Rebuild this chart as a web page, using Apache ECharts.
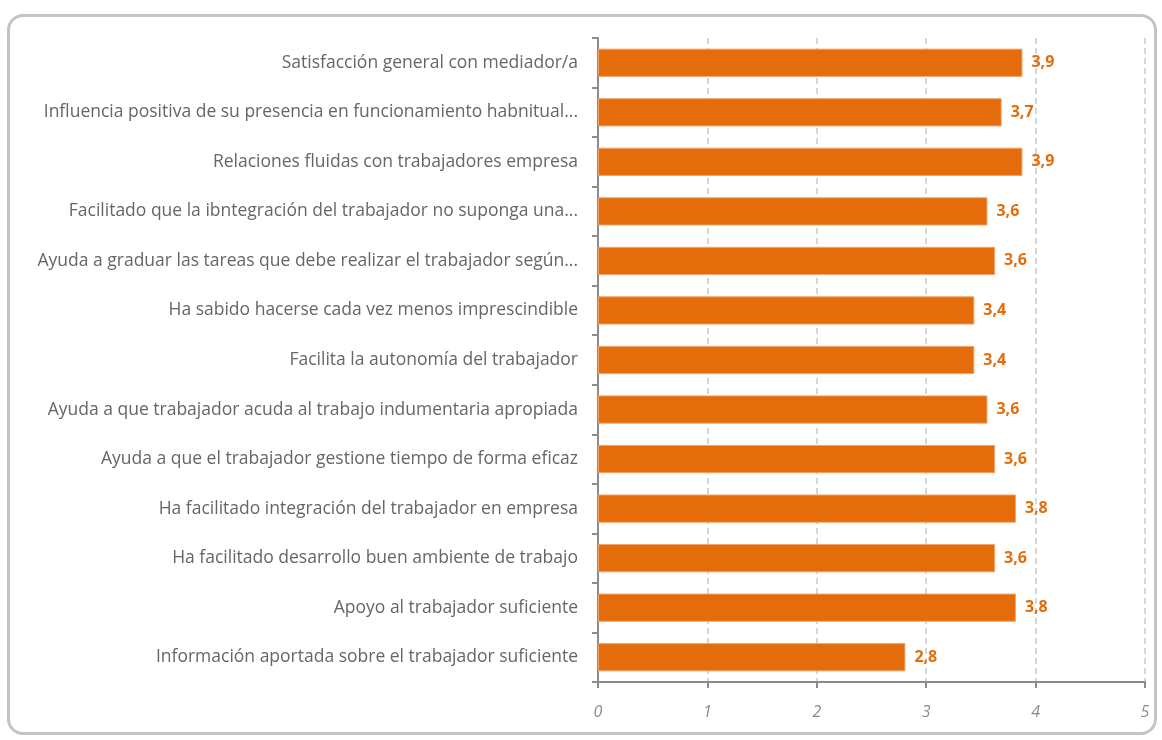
<!DOCTYPE html>
<html>
<head>
<meta charset="utf-8">
<script src="https://cdn.jsdelivr.net/npm/echarts@6/dist/echarts.min.js"></script>
<style>
  html, body { margin: 0; padding: 0; background: #fff; }
  #frame {
    position: absolute; left: 7px; top: 14px; width: 1150px; height: 721px;
    border: 3px solid #c4c4c4; border-radius: 16px; box-sizing: border-box;
  }
  #chart { position: absolute; left: 0; top: 0; width: 1162px; height: 740px; }
</style>
</head>
<body>
<div id="frame"></div>
<div id="chart"></div>
<script>
  // categorias de arriba a abajo
  const categories = [
    'Satisfacción general con mediador/a',
    'Influencia positiva de su presencia en funcionamiento habnitual...',
    'Relaciones fluidas con trabajadores empresa',
    'Facilitado que la ibntegración del trabajador no suponga una...',
    'Ayuda a graduar las tareas que debe realizar el trabajador según...',
    'Ha sabido hacerse cada vez menos imprescindible',
    'Facilita la autonomía del trabajador',
    'Ayuda a que trabajador acuda al trabajo indumentaria apropiada',
    'Ayuda a que el trabajador gestione tiempo de forma eficaz',
    'Ha facilitado integración del trabajador en empresa',
    'Ha facilitado desarrollo buen ambiente de trabajo',
    'Apoyo al trabajador suficiente',
    'Información aportada sobre el trabajador suficiente'
  ];
  const values = [3.88, 3.69, 3.88, 3.56, 3.63, 3.44, 3.44, 3.56, 3.63, 3.82, 3.63, 3.82, 2.81];
  const xTicks = [0, 1, 2, 3, 4, 5];

  const myChart = echarts.init(document.getElementById('chart'));
  const option = {
    animation: false,
    grid: { left: 598, right: 17, top: 38, bottom: 58, containLabel: false },
    xAxis: {
      type: 'value',
      min: xTicks[0],
      max: xTicks[xTicks.length - 1],
      interval: 1,
      axisLine: { show: true, lineStyle: { color: '#8c8c8c', width: 2 } },
      axisTick: { show: true, length: 6, lineStyle: { color: '#8c8c8c', width: 2 } },
      axisLabel: {
        margin: 22, color: '#8c8c8c', fontSize: 16, fontStyle: 'italic',
        fontFamily: 'Open Sans'
      },
      splitLine: { show: true, lineStyle: { color: '#c8c8c8', type: [6, 4], width: 1.5 } }
    },
    yAxis: {
      type: 'category',
      inverse: true,
      data: categories,
      axisLine: { show: true, lineStyle: { color: '#8c8c8c', width: 2 } },
      axisTick: { show: true, length: 6, lineStyle: { color: '#8c8c8c', width: 2 } },
      axisLabel: {
        margin: 20, color: '#666666', fontSize: 17.5,
        fontFamily: 'Open Sans'
      }
    },
    series: [{
      type: 'bar',
      data: values,
      barWidth: '57%',
      itemStyle: { color: '#e46c0a', borderColor: '#f0a46a', borderWidth: 1 },
      label: {
        show: true, position: 'right', distance: 9,
        color: '#e46c0a', fontWeight: 'bold', fontSize: 16, fontFamily: 'Open Sans',
        formatter: p => p.value.toFixed(1).replace('.', ',')
      }
    }]
  };
  myChart.setOption(option);
</script>
</body>
</html>
